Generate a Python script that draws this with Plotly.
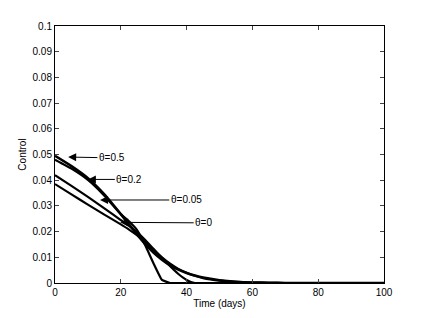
import plotly.graph_objects as go

t = [0, 5, 10, 15, 20, 22.5, 25, 27.5, 30, 32.5, 35, 37.5, 40, 42.5, 45, 50, 55, 60, 65, 70, 80, 90, 100]
u_05 = [0.0495, 0.0455, 0.0408, 0.0345, 0.0268, 0.0228, 0.0188, 0.0150, 0.0118, 0.0091, 0.0069, 0.0052, 0.0039, 0.0029, 0.0021, 0.0011, 0.0005, 0.0002, 0.0001, 0, 0, 0, 0]
u_02 = [0.0480, 0.0445, 0.0401, 0.0340, 0.0268, 0.0240, 0.0205, 0.0145, 0.0075, 0.0012, 0, 0, 0, 0, 0, 0, 0, 0, 0, 0, 0, 0, 0]
u_005 = [0.0420, 0.0378, 0.0335, 0.0290, 0.0245, 0.0222, 0.0197, 0.0166, 0.0132, 0.0098, 0.0065, 0.0035, 0.0012, 0, 0, 0, 0, 0, 0, 0, 0, 0, 0]
u_0 = [0.0385, 0.0345, 0.0305, 0.0266, 0.0228, 0.0208, 0.0185, 0.0158, 0.0128, 0.0100, 0.0075, 0.0055, 0.0040, 0.0028, 0.0019, 0.0009, 0.0004, 0.0002, 0.0001, 0, 0, 0, 0]

labels = ["θ=0.5", "θ=0.2", "θ=0.05", "θ=0"]
tips = [(4, 0.0490), (10, 0.0403), (13.7, 0.0323), (19.8, 0.0236)]
label_pos = [(17.3, 0.0487), (22.6, 0.0403), (39.9, 0.0323), (45.2, 0.0234)]

fig = go.Figure()
for y, w, sm in [(u_05, 2.6, 0.6), (u_02, 2.2, 0.3), (u_005, 2.2, 0.4), (u_0, 2.2, 0.6)]:
    fig.add_trace(go.Scatter(x=t, y=y, mode="lines",
                             line=dict(color="black", width=w, shape="spline", smoothing=sm),
                             showlegend=False))

for lab, (tx, ty), (lx, ly) in zip(labels, tips, label_pos):
    fig.add_annotation(x=tx, y=ty, ax=lx, ay=ly, axref="x", ayref="y", xref="x", yref="y",
                       text=lab, showarrow=True, arrowhead=2, arrowsize=1.6, arrowwidth=1,
                       arrowcolor="black", font=dict(size=10, color="black"))

fig.update_layout(
    width=424, height=318,
    margin=dict(l=47, r=48, t=16, b=43),
    paper_bgcolor="white", plot_bgcolor="white",
    font=dict(family="Liberation Sans, Arial, sans-serif", size=10, color="black"),
)
fig.update_xaxes(range=[0, 100], tickvals=[0, 20, 40, 60, 80, 100], ticks="inside", ticklen=4,
                 showline=True, linecolor="black", linewidth=1, mirror="ticks", showgrid=False, zeroline=False,
                 title=dict(text="Time (days)", standoff=2, font=dict(size=10)), tickfont=dict(size=10))
fig.update_yaxes(range=[0, 0.1], tickvals=[i / 100 for i in range(11)],
                 ticktext=["0"] + ["%.2f" % (i / 100) for i in range(1, 10)] + ["0.1"],
                 ticks="inside", ticklen=4,
                 showline=True, linecolor="black", linewidth=1, mirror="ticks", showgrid=False, zeroline=False,
                 title=dict(text="Control", standoff=4, font=dict(size=10)), tickfont=dict(size=10))

fig.write_html("out.html")
